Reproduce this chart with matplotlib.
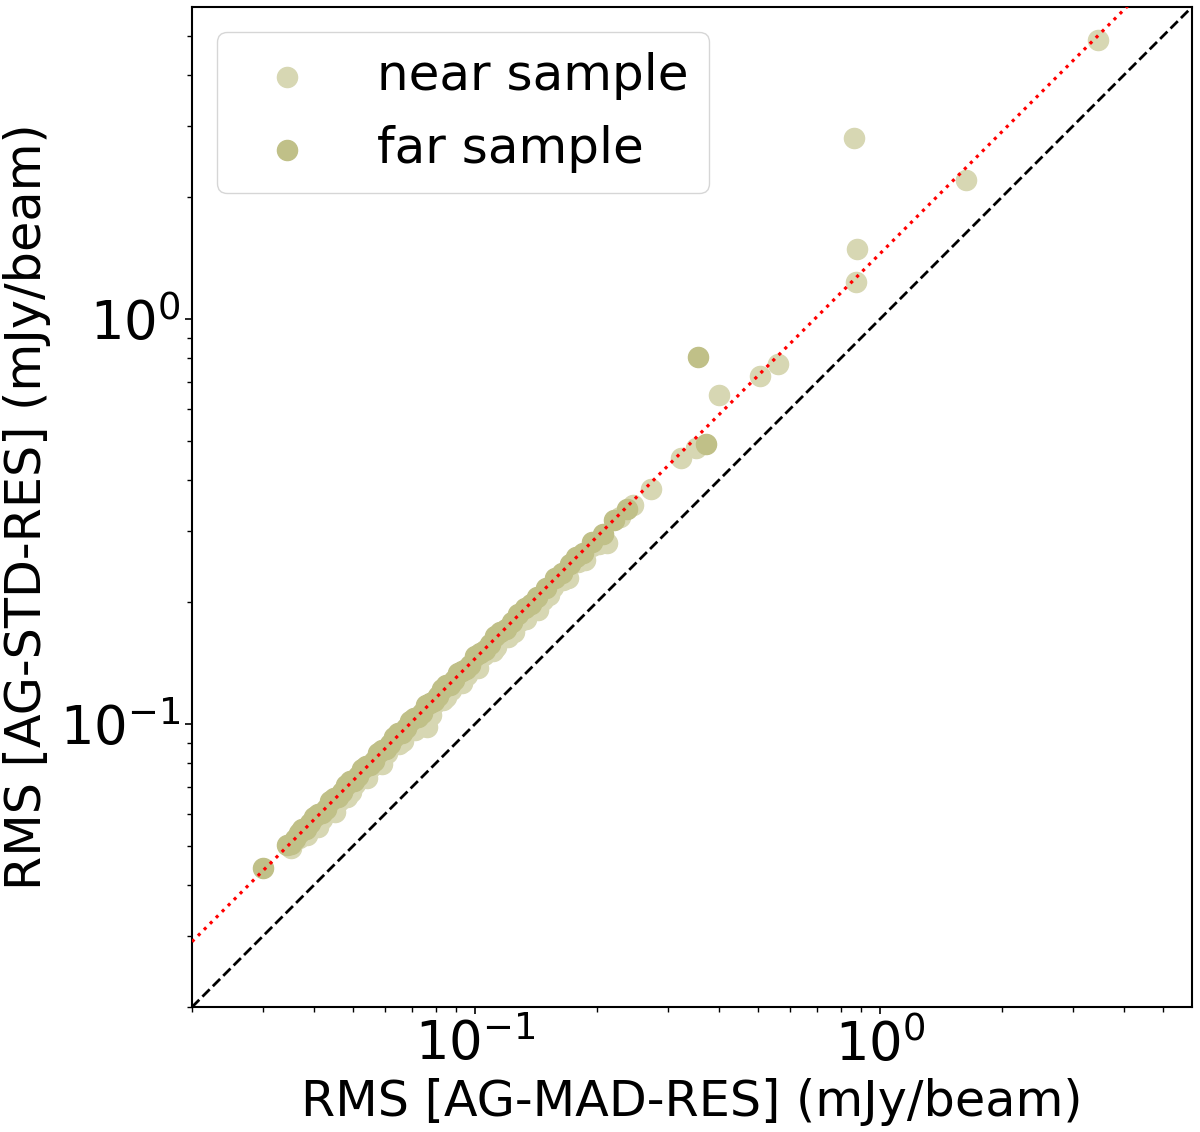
import numpy as np
import matplotlib
matplotlib.use("Agg")
import matplotlib.pyplot as plt

# near sample: RMS from MAD-based residual vs STD-based residual (mJy/beam)
near_mad = [0.0352, 0.0368, 0.0385, 0.0401, 0.0420, 0.0440, 0.0461, 0.0482,
            0.0505, 0.0528, 0.0553, 0.0579, 0.0606, 0.0634, 0.0664, 0.0695,
            0.0728, 0.0761, 0.0797, 0.0833, 0.0872, 0.0913, 0.0955, 0.1000,
            0.1050, 0.1105, 0.1206, 0.1290, 0.1380, 0.1470, 0.1560, 0.1647,
            0.1794, 0.1950, 0.2114, 0.2277, 0.2450,
            0.0410, 0.0450, 0.0495, 0.0540, 0.0590, 0.0650, 0.0710, 0.0780,
            0.0850, 0.0930, 0.1020, 0.1130, 0.1250, 0.1340, 0.1430, 0.1520,
            0.1700, 0.1870, 0.2030,
            0.2715, 0.322, 0.3505, 0.4017, 0.507, 0.5615, 0.875, 0.880,
            0.865, 1.633, 3.46]
near_std = [0.0493, 0.0523, 0.0531, 0.0565, 0.0584, 0.0625, 0.0645, 0.0660,
            0.0712, 0.0734, 0.0785, 0.0799, 0.0848, 0.0894, 0.0910, 0.0973,
            0.1005, 0.0983, 0.1124, 0.1146, 0.1212, 0.1296, 0.1318, 0.1400,
            0.1481, 0.1514, 0.1640, 0.1793, 0.1960, 0.2029, 0.2184, 0.2268,
            0.2512, 0.2750, 0.2798, 0.3245, 0.3479,
            0.0558, 0.0608, 0.0678, 0.0734, 0.0797, 0.0891, 0.0966, 0.1053,
            0.1165, 0.1265, 0.1377, 0.1548, 0.1688, 0.1822, 0.1916, 0.2082,
            0.2295, 0.2543, 0.2781,
            0.3804, 0.4536, 0.480, 0.649, 0.723, 0.774, 1.234, 1.489,
            2.80, 2.20, 4.89]

# far sample
far_mad = [0.0300, 0.03436, 0.03596, 0.03742, 0.03916, 0.04099, 0.04289,
           0.04487, 0.04697, 0.04914, 0.05142, 0.05381, 0.05631, 0.05894,
           0.06167, 0.06454, 0.06753, 0.07068, 0.07396, 0.07739, 0.08098,
           0.08476, 0.08869, 0.09281, 0.09714, 0.1028, 0.1088, 0.1151,
           0.1233, 0.1327, 0.1421, 0.1574, 0.1714, 0.1845, 0.2067, 0.2369,
           0.0351, 0.0367, 0.0383, 0.0401, 0.0419, 0.0439, 0.0459, 0.0480,
           0.0503, 0.0526, 0.0551, 0.0576, 0.0603, 0.0631, 0.0660, 0.0691,
           0.0723, 0.0757, 0.0792, 0.0829, 0.0867, 0.0907, 0.0950, 0.0999,
           0.1058, 0.1119, 0.1190, 0.1280, 0.1374, 0.1497, 0.1640, 0.1780,
           0.1950, 0.2200,
           0.3563, 0.371]
far_std = [0.0441, 0.0502, 0.0521, 0.0550, 0.0568, 0.0598, 0.0618,
           0.0655, 0.0681, 0.0722, 0.0746, 0.0786, 0.0811, 0.0861,
           0.0894, 0.0949, 0.0979, 0.1032, 0.1065, 0.1130, 0.1174,
           0.1246, 0.1286, 0.1355, 0.1399, 0.1501, 0.1578, 0.1692,
           0.1788, 0.1937, 0.2060, 0.2298, 0.2485, 0.2650, 0.2950, 0.3396,
           0.0505, 0.0539, 0.0552, 0.0589, 0.0603, 0.0645, 0.0661, 0.0706,
           0.0724, 0.0773, 0.0793, 0.0847, 0.0868, 0.0928, 0.0950, 0.1016,
           0.1041, 0.1113, 0.1140, 0.1219, 0.1248, 0.1333, 0.1368, 0.1469,
           0.1524, 0.1645, 0.1714, 0.1869, 0.1979, 0.2171, 0.2362, 0.2581,
           0.2808, 0.3190,
           0.806, 0.491]

# fitted ratio between the two estimators
ratio = 1.45
lims = [0.02, 5.9]

fig = plt.figure(figsize=(12, 11.32), dpi=100)
ax = fig.add_axes([0.16, 0.1104, 0.8333, 0.8834])

ax.scatter(near_mad, near_std, s=210, color='#d7d7b3', label='near sample', zorder=2)
ax.scatter(far_mad, far_std, s=210, color='#c0c088', label='far sample', zorder=3)

xx = np.array(lims)
ax.plot(xx, xx, 'k--', lw=2.0, zorder=4)
ax.plot(xx, ratio * xx, 'r:', lw=2.3, zorder=5)

ax.set_xscale('log')
ax.set_yscale('log')
ax.set_xlim(lims)
ax.set_ylim(lims)

ax.set_xlabel('RMS [AG-MAD-RES] (mJy/beam)', fontsize=35.5)
ax.set_ylabel('RMS [AG-STD-RES] (mJy/beam)', fontsize=35.5, labelpad=6)
ax.tick_params(which='major', labelsize=38, length=5, width=1.2)
ax.tick_params(which='minor', length=3.5, width=1.0)
for sp in ax.spines.values():
    sp.set_linewidth(1.5)

ax.legend(loc='upper left', fontsize=36)

fig.savefig('out.png', dpi=100)
